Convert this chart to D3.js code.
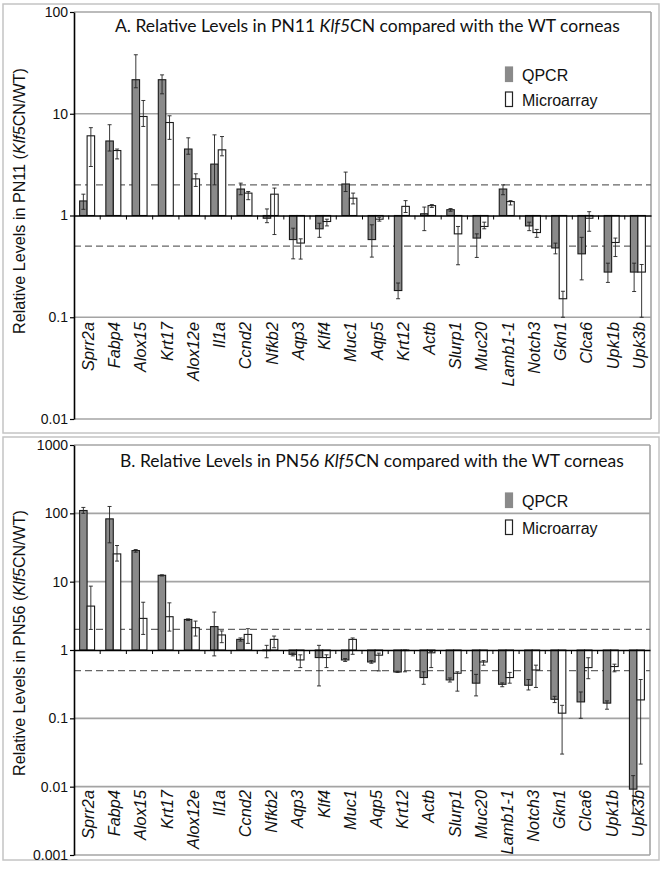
<!DOCTYPE html>
<html>
<head>
<meta charset="utf-8">
<script src="https://cdn.jsdelivr.net/npm/d3@7"></script>
<style>
  html, body { margin: 0; padding: 0; background: #fff; }
  svg { display: block; }
</style>
</head>
<body>
<svg id="chart" width="664" height="871"></svg>
<script>
// ---------- DATA ----------
const categories = ["Sprr2a","Fabp4","Alox15","Krt17","Alox12e","Il1a","Ccnd2","Nfkb2","Aqp3","Klf4","Muc1",
  "Aqp5","Krt12","Actb","Slurp1","Muc20","Lamb1-1","Notch3","Gkn1","Clca6","Upk1b","Upk3b"];
const seriesNames = ["QPCR", "Microarray"];

// Panel A (PN11)
const qpcrA    = [1.39, 5.4, 21.6, 21.6, 4.5, 3.2, 1.82, 0.94, 0.58, 0.74, 2.04, 0.58, 0.183, 1.04, 1.14, 0.60, 1.82, 0.79, 0.48, 0.42, 0.278, 0.278];
const qpcrALo  = [1.15, 4.3, 18, 15.7, 4.0, 2.0, 1.6, 0.85, 0.375, 0.61, 1.72, 0.39, 0.152, 0.71, 1.10, 0.387, 1.6, 0.71, 0.42, 0.233, 0.22, 0.179];
const qpcrAHi  = [1.62, 7.8, 38, 24.1, 5.8, 6.2, 2.08, 1.16, 0.75, 0.84, 2.67, 0.81, 0.217, 1.21, 1.17, 0.66, 2.0, 0.86, 0.535, 0.61, 0.34, 0.34];
const microA   = [6.07, 4.35, 9.4, 8.2, 2.29, 4.42, 1.66, 1.62, 0.536, 0.873, 1.48, 0.92, 1.23, 1.25, 0.66, 0.78, 1.37, 0.68, 0.152, 0.94, 0.543, 0.278];
const microALo = [3.03, 3.6, 7.5, 5.6, 1.93, 3.86, 1.43, 0.65, 0.373, 0.79, 1.30, 0.88, 1.07, 1.20, 0.328, 0.74, 1.27, 0.61, 0.10, 0.70, 0.395, 0.10];
const microAHi = [7.3, 4.5, 13.5, 9.55, 2.57, 5.97, 1.72, 1.86, 0.59, 0.92, 1.66, 0.96, 1.40, 1.28, 0.78, 0.86, 1.40, 0.73, 0.18, 1.09, 0.60, 0.33];
const ticksA = [0.01, 0.1, 1, 10, 100];
const tickLabelsA = ["0.01", "0.1", "1", "10", "100"];

// Panel B (PN56)
const qpcrB    = [110, 83, 28.5, 12.4, 2.8, 2.2, 1.43, 0.98, 0.865, 0.775, 0.715, 0.668, 0.477, 0.395, 0.365, 0.327, 0.315, 0.305, 0.19, 0.174, 0.167, 0.0092];
const qpcrBLo  = [100, 37, 27, 12.1, 2.7, 0.82, 1.35, 0.77, 0.82, 0.298, 0.68, 0.64, 0.47, 0.315, 0.34, 0.213, 0.29, 0.26, 0.17, 0.10, 0.136, 0.004];
const qpcrBHi  = [122, 126, 29.5, 12.6, 2.85, 3.59, 1.5, 1.17, 0.9, 1.17, 0.75, 0.70, 0.49, 0.48, 0.39, 0.44, 0.33, 0.37, 0.21, 0.243, 0.18, 0.0145];
const microB   = [4.39, 25.5, 2.9, 3.07, 2.12, 1.66, 1.69, 1.43, 0.715, 0.775, 1.43, 0.84, 0.98, 0.91, 0.457, 0.668, 0.395, 0.51, 0.119, 0.553, 0.573, 0.186];
const microBLo = [2.0, 20, 1.69, 1.89, 1.6, 1.28, 1.25, 1.08, 0.553, 0.553, 0.865, 0.494, 0.48, 0.553, 0.25, 0.60, 0.327, 0.283, 0.03, 0.38, 0.48, 0.0214];
const microBHi = [8.6, 33.8, 5.0, 4.9, 2.65, 1.9, 2.05, 1.6, 0.85, 0.85, 1.5, 0.9, 1.0, 0.95, 0.48, 0.70, 0.47, 0.60, 0.155, 0.77, 0.62, 0.37];
const ticksB = [0.001, 0.01, 0.1, 1, 10, 100, 1000];
const tickLabelsB = ["0.001", "0.01", "0.1", "1", "10", "100", "1000"];

const thresholds = [2, 0.5];

// ---------- DRAW ----------
const svg = d3.select("#chart");
const GRID = "#a4a4a4";
const SANS = "'Liberation Sans', Arial, Helvetica, sans-serif";

function fit(sel, size, target) {
  const len = sel.node().getComputedTextLength();
  return size * target / len;
}

function drawPanel(cfg) {
  const g = svg.append("g");
  // outer panel frame
  g.append("rect").attr("x", cfg.box[0]).attr("y", cfg.box[1])
    .attr("width", cfg.box[2] - cfg.box[0]).attr("height", cfg.box[3] - cfg.box[1])
    .attr("fill", "#fff").attr("stroke", "#c4c4c4").attr("stroke-width", 1.5);

  const x = d3.scaleBand().domain(categories).range([cfg.left, cfg.right]).paddingInner(0).paddingOuter(0);
  const y = d3.scaleLog().domain(cfg.domain).range([cfg.bottom, cfg.top]);
  const bw = x.bandwidth() / 3.5;

  // gridlines & frame
  g.append("g").selectAll("line").data(cfg.ticks.filter(t => t !== 1)).join("line")
    .attr("x1", cfg.left).attr("x2", cfg.right)
    .attr("y1", d => y(d)).attr("y2", d => y(d))
    .attr("stroke", GRID).attr("stroke-width", 1.6);
  g.append("line").attr("x1", cfg.right).attr("x2", cfg.right)
    .attr("y1", cfg.top).attr("y2", cfg.bottom)
    .attr("stroke", GRID).attr("stroke-width", 1.6);

  // threshold dashed lines
  g.append("g").selectAll("line").data(thresholds).join("line")
    .attr("x1", cfg.left).attr("x2", cfg.right)
    .attr("y1", d => y(d)).attr("y2", d => y(d))
    .attr("stroke", "#666").attr("stroke-width", 1.3).attr("stroke-dasharray", "7,4");

  // bars
  const series = [
    { vals: cfg.q, lo: cfg.qLo, hi: cfg.qHi, fill: "#8a8a8a", off: -bw },
    { vals: cfg.m, lo: cfg.mLo, hi: cfg.mHi, fill: "#ffffff", off: 0 }
  ];
  series.forEach(s => {
    const data = categories.map((c, i) => ({ c, v: s.vals[i], lo: s.lo[i], hi: s.hi[i] }));
    const cx = d => x(d.c) + x.bandwidth() / 2 + s.off;
    g.append("g").selectAll("rect").data(data).join("rect")
      .attr("x", cx)
      .attr("y", d => Math.min(y(1), y(d.v)))
      .attr("width", bw)
      .attr("height", d => Math.abs(y(1) - y(d.v)))
      .attr("fill", s.fill).attr("stroke", "#1a1a1a").attr("stroke-width", 1.1);
    const eb = g.append("g").attr("stroke", "#222").attr("stroke-width", 0.9);
    eb.selectAll("line.v").data(data).join("line").attr("class", "v")
      .attr("x1", d => cx(d) + bw / 2).attr("x2", d => cx(d) + bw / 2)
      .attr("y1", d => y(d.lo)).attr("y2", d => y(d.hi));
    eb.selectAll("line.h").data(data).join("line").attr("class", "h")
      .attr("x1", d => cx(d) + bw / 2 - 2).attr("x2", d => cx(d) + bw / 2 + 2)
      .attr("y1", d => y(d.hi)).attr("y2", d => y(d.hi));
    eb.selectAll("line.l").data(data).join("line").attr("class", "l")
      .attr("x1", d => cx(d) + bw / 2 - 2).attr("x2", d => cx(d) + bw / 2 + 2)
      .attr("y1", d => y(d.lo)).attr("y2", d => y(d.lo));
  });

  // category axis at 1
  const xAxis = d3.axisBottom(x).tickSize(0).tickFormat("");
  const xa = g.append("g").attr("transform", `translate(0,${y(1)})`).call(xAxis);
  xa.select(".domain").attr("stroke", "#000").attr("stroke-width", 1.6);
  g.append("g").selectAll("line").data(categories.slice(1)).join("line")
    .attr("x1", d => x(d)).attr("x2", d => x(d))
    .attr("y1", y(1)).attr("y2", y(1) + 4)
    .attr("stroke", "#000").attr("stroke-width", 1);

  // category labels
  const labs = g.append("g").selectAll("text").data(categories).join("text")
    .attr("transform", d => `translate(${x(d) + x.bandwidth() / 2 + 1},${cfg.labelTop}) rotate(-90)`)
    .attr("text-anchor", "end").attr("dy", "0.36em")
    .attr("font-family", SANS).attr("font-style", "italic")
    .attr("font-size", 16).attr("fill", "#111")
    .text(d => d);
  const ref = labs.filter(d => d === "Alox12e");
  labs.attr("font-size", Math.min(17, fit(ref, 16, 59)));

  // y axis
  const yAxis = d3.axisLeft(y).tickValues(cfg.ticks).tickSize(4).tickSizeOuter(0)
    .tickFormat((d, i) => cfg.tickLabels[i]);
  const ya = g.append("g").attr("transform", `translate(${cfg.left},0)`).call(yAxis);
  ya.select(".domain").attr("stroke", "#000").attr("stroke-width", 1.6);
  ya.selectAll(".tick line").attr("stroke", "#000").attr("stroke-width", 1.2);
  ya.selectAll(".tick text").attr("x", -6)
    .attr("font-family", SANS).attr("font-size", 14).attr("fill", "#111");

  // y axis label
  const yl = g.append("text")
    .attr("transform", `translate(${cfg.ylabelX},${cfg.ylabelY}) rotate(-90)`)
    .attr("text-anchor", "middle")
    .attr("font-family", SANS).attr("font-size", 15).attr("fill", "#111");
  yl.append("tspan").text(`Relative Levels in ${cfg.pn} (`);
  yl.append("tspan").attr("font-style", "italic").text("Klf5");
  yl.append("tspan").text("CN/WT)");
  yl.attr("font-size", fit(yl, 15, cfg.ylabelW));

  // title
  const t = g.append("text").attr("x", cfg.titleX).attr("y", cfg.titleY)
    .attr("font-family", "Lato, 'Open Sans', sans-serif").attr("font-size", 16).attr("fill", "#111");
  t.append("tspan").text(`${cfg.letter}. Relative Levels in ${cfg.pn} `);
  t.append("tspan").attr("font-style", "italic").text("Klf5");
  t.append("tspan").text("CN compared with the WT corneas");
  t.attr("font-size", fit(t, 16, cfg.titleW));

  // legend
  const lg = g.append("g");
  const leg = [
    { name: seriesNames[0], fill: "#8a8a8a", stroke: "#8a8a8a", y: cfg.legY[0] },
    { name: seriesNames[1], fill: "#fff", stroke: "#222", y: cfg.legY[1] }
  ];
  leg.forEach(l => {
    lg.append("rect").attr("x", 505.5).attr("y", l.y).attr("width", 7).attr("height", 14.5)
      .attr("fill", l.fill).attr("stroke", l.stroke).attr("stroke-width", 1.2);
    lg.append("text").attr("x", 522).attr("y", l.y + 13.5)
      .attr("font-family", SANS).attr("font-size", 16).attr("fill", "#111")
      .text(l.name);
  });
}

drawPanel({
  box: [3, 4, 659, 433], left: 74, right: 651, top: 12, bottom: 419,
  domain: [0.01, 100], ticks: ticksA, tickLabels: tickLabelsA,
  q: qpcrA, qLo: qpcrALo, qHi: qpcrAHi, m: microA, mLo: microALo, mHi: microAHi,
  labelTop: 322, pn: "PN11", letter: "A", titleX: 115, titleY: 31.5, titleW: 505,
  ylabelX: 25, ylabelY: 201, ylabelW: 266, legY: [67, 92]
});
drawPanel({
  box: [3, 437, 659, 860], left: 74, right: 650, top: 445, bottom: 855,
  domain: [0.001, 1000], ticks: ticksB, tickLabels: tickLabelsB,
  q: qpcrB, qLo: qpcrBLo, qHi: qpcrBHi, m: microB, mLo: microBLo, mHi: microBHi,
  labelTop: 790, pn: "PN56", letter: "B", titleX: 120, titleY: 466.5, titleW: 504,
  ylabelX: 25, ylabelY: 643, ylabelW: 266, legY: [493, 520]
});
</script>
</body>
</html>
